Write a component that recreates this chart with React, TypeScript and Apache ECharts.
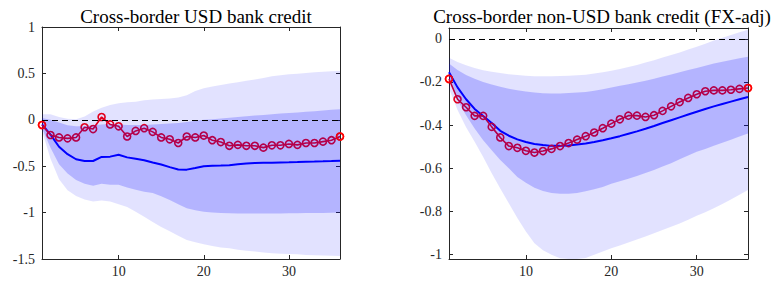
import React, { useEffect, useRef } from "react";
import * as echarts from "echarts";

// Horizons (months)
const horizons = [1, 2, 3, 4, 5, 6, 7, 8, 9, 10, 11, 12, 13, 14, 15, 16, 17, 18, 19, 20, 21, 22, 23, 24, 25, 26, 27, 28, 29, 30, 31, 32, 33, 34, 35, 36];

// Left panel: Cross-border USD bank credit
const usdMedian = [-0.05, -0.16, -0.29, -0.37, -0.425, -0.444, -0.444, -0.4, -0.397, -0.376, -0.405, -0.42, -0.435, -0.46, -0.482, -0.51, -0.535, -0.537, -0.52, -0.5, -0.495, -0.493, -0.49, -0.48, -0.472, -0.465, -0.462, -0.462, -0.46, -0.458, -0.455, -0.451, -0.45, -0.448, -0.445, -0.44];
const usdLocalProj = [-0.056, -0.164, -0.19, -0.2, -0.19, -0.08, -0.1, 0.03, -0.05, -0.07, -0.18, -0.12, -0.09, -0.13, -0.19, -0.21, -0.25, -0.18, -0.19, -0.17, -0.22, -0.24, -0.28, -0.27, -0.28, -0.28, -0.3, -0.275, -0.275, -0.26, -0.27, -0.25, -0.25, -0.235, -0.22, -0.18];
const usd68Lo = [-0.09, -0.3, -0.48, -0.58, -0.65, -0.69, -0.71, -0.69, -0.7, -0.7, -0.73, -0.755, -0.775, -0.79, -0.825, -0.864, -0.91, -0.954, -0.975, -0.99, -1.0, -1.005, -1.008, -1.01, -1.01, -1.01, -1.01, -1.01, -1.01, -1.008, -1.006, -1.005, -1.004, -1.003, -1.002, -1.0];
const usd68Hi = [0.02, 0.0, -0.03, -0.06, -0.07, -0.07, -0.06, -0.05, -0.045, -0.05, -0.055, -0.056, -0.055, -0.05, -0.045, -0.04, -0.035, -0.025, -0.01, 0.0, 0.005, 0.015, 0.022, 0.03, 0.038, 0.045, 0.052, 0.06, 0.068, 0.074, 0.08, 0.087, 0.093, 0.1, 0.107, 0.113];
const usd90Lo = [-0.12, -0.42, -0.64, -0.76, -0.82, -0.86, -0.88, -0.87, -0.88, -0.91, -0.94, -0.99, -1.045, -1.1, -1.155, -1.2, -1.25, -1.295, -1.32, -1.34, -1.36, -1.375, -1.385, -1.4, -1.41, -1.42, -1.43, -1.439, -1.443, -1.447, -1.45, -1.457, -1.46, -1.463, -1.466, -1.468];
const usd90Hi = [0.06, 0.06, 0.03, 0.01, 0.005, 0.035, 0.09, 0.13, 0.16, 0.178, 0.188, 0.195, 0.21, 0.22, 0.225, 0.23, 0.24, 0.265, 0.31, 0.34, 0.36, 0.375, 0.39, 0.405, 0.42, 0.435, 0.45, 0.47, 0.48, 0.49, 0.495, 0.505, 0.512, 0.518, 0.522, 0.525];

// Right panel: Cross-border non-USD bank credit (FX-adj)
const nonUsdMedian = [-0.155, -0.225, -0.28, -0.325, -0.358, -0.39, -0.426, -0.449, -0.466, -0.478, -0.487, -0.492, -0.496, -0.496, -0.494, -0.49, -0.485, -0.478, -0.47, -0.461, -0.451, -0.44, -0.429, -0.417, -0.404, -0.39, -0.377, -0.364, -0.351, -0.338, -0.325, -0.313, -0.302, -0.291, -0.28, -0.27];
const nonUsdLocalProj = [-0.186, -0.28, -0.317, -0.357, -0.357, -0.408, -0.457, -0.497, -0.505, -0.519, -0.527, -0.52, -0.51, -0.497, -0.483, -0.467, -0.451, -0.434, -0.414, -0.393, -0.373, -0.356, -0.356, -0.362, -0.354, -0.334, -0.313, -0.293, -0.274, -0.257, -0.243, -0.239, -0.239, -0.236, -0.232, -0.228];
const nonUsd68Lo = [-0.19, -0.285, -0.354, -0.416, -0.47, -0.516, -0.562, -0.6, -0.64, -0.667, -0.69, -0.705, -0.714, -0.718, -0.718, -0.714, -0.706, -0.697, -0.686, -0.672, -0.66, -0.648, -0.635, -0.622, -0.608, -0.592, -0.576, -0.558, -0.541, -0.523, -0.51, -0.496, -0.482, -0.468, -0.453, -0.439];
const nonUsd68Hi = [-0.114, -0.145, -0.168, -0.185, -0.2, -0.212, -0.222, -0.231, -0.238, -0.244, -0.249, -0.252, -0.253, -0.253, -0.251, -0.249, -0.246, -0.241, -0.234, -0.226, -0.218, -0.21, -0.202, -0.194, -0.185, -0.175, -0.165, -0.155, -0.145, -0.135, -0.125, -0.115, -0.106, -0.098, -0.09, -0.083];
const nonUsd90Lo = [-0.23, -0.33, -0.41, -0.477, -0.547, -0.623, -0.693, -0.762, -0.83, -0.893, -0.947, -0.98, -1.0, -1.016, -1.022, -1.022, -1.015, -1.0, -0.985, -0.97, -0.957, -0.943, -0.93, -0.916, -0.901, -0.886, -0.871, -0.855, -0.838, -0.82, -0.803, -0.785, -0.765, -0.744, -0.722, -0.7];
const nonUsd90Hi = [-0.088, -0.107, -0.122, -0.135, -0.146, -0.153, -0.159, -0.164, -0.168, -0.171, -0.173, -0.173, -0.173, -0.172, -0.171, -0.169, -0.166, -0.161, -0.155, -0.148, -0.14, -0.131, -0.121, -0.11, -0.099, -0.087, -0.075, -0.063, -0.05, -0.037, -0.023, -0.008, 0.005, 0.018, 0.03, 0.042];

const panelTitles = ["Cross-border USD bank credit", "Cross-border non-USD bank credit (FX-adj)"];
const xTickValues = [10, 20, 30];
const usdYTicks = [-1.5, -1, -0.5, 0, 0.5, 1];
const nonUsdYTicks = [-1, -0.8, -0.6, -0.4, -0.2, 0];
const usdYRange = [-1.5, 1];
const nonUsdYRange = [-1.02, 0.05];
const xRange = [1, 36];

const FONT = "Liberation Serif";
const AXIS_COLOR = "#262626";

function pairs(vals: number[]) {
  return horizons.map((h, i) => [h, vals[i]]);
}

function bandSeries(g: number, lo: number[], hi: number[], opacity: number) {
  return {
    type: "custom",
    xAxisIndex: g * 2,
    yAxisIndex: g * 2,
    z: 3,
    silent: true,
    clip: true,
    data: [[horizons[0], lo[0]]],
    renderItem: (params: any, api: any) => {
      const upper = horizons.map((h, i) => api.coord([h, hi[i]]));
      const lower = horizons.map((h, i) => api.coord([h, lo[i]])).reverse();
      const cs = params.coordSys;
      const pts = echarts.graphic.clipPointsByRect(upper.concat(lower), {
        x: cs.x,
        y: cs.y,
        width: cs.width,
        height: cs.height,
      });
      return {
        type: "polygon",
        shape: { points: pts },
        style: { fill: "#0000FF", opacity },
      };
    },
  };
}

const markerStyle = { color: "rgba(0,0,0,0)", borderColor: "#FF0000", borderWidth: 1.6 };

function panelSeries(g: number, median: number[], lp: number[], lo68: number[], hi68: number[], lo90: number[], hi90: number[]) {
  return [
    {
      type: "line",
      xAxisIndex: g * 2,
      yAxisIndex: g * 2,
      z: 2,
      data: pairs(median),
      showSymbol: false,
      symbol: "none",
      lineStyle: { color: "#0000FF", width: 2 },
      silent: true,
      markLine: {
        silent: true,
        symbol: "none",
        label: { show: false },
        lineStyle: { color: "#000000", type: [6, 4], width: 1 },
        data: [{ yAxis: 0 }],
      },
    },
    {
      type: "line",
      xAxisIndex: g * 2,
      yAxisIndex: g * 2,
      z: 2,
      data: pairs(lp),
      symbol: "circle",
      symbolSize: 7,
      showAllSymbol: true,
      lineStyle: { color: "#FF0000", width: 1.6 },
      itemStyle: markerStyle,
      silent: true,
    },
    bandSeries(g, lo90, hi90, 0.115),
    bandSeries(g, lo68, hi68, 0.2),
    {
      type: "scatter",
      xAxisIndex: g * 2,
      yAxisIndex: g * 2,
      z: 4,
      clip: false,
      silent: true,
      symbol: "circle",
      symbolSize: 7,
      itemStyle: markerStyle,
      data: [
        [horizons[0], lp[0]],
        [horizons[horizons.length - 1], lp[lp.length - 1]],
      ],
    },
  ];
}

function fmt(v: number) {
  return String(+v.toFixed(2));
}

function axesFor(g: number, yRange: number[], yTicks: number[]) {
  const tick = { show: true, inside: true, length: 4, lineStyle: { color: AXIS_COLOR, width: 1 } };
  const xAxes = [
    {
      type: "value",
      gridIndex: g,
      position: "bottom",
      min: xRange[0],
      max: xRange[1],
      axisLine: { show: true, onZero: false, lineStyle: { color: AXIS_COLOR, width: 1 } },
      axisTick: { ...tick, customValues: xTickValues },
      axisLabel: { show: true, customValues: xTickValues, fontFamily: FONT, fontSize: 14, color: AXIS_COLOR, margin: 5, formatter: fmt },
      splitLine: { show: false },
    },
    {
      type: "value",
      gridIndex: g,
      position: "top",
      min: xRange[0],
      max: xRange[1],
      axisLine: { show: true, onZero: false, lineStyle: { color: AXIS_COLOR, width: 1 } },
      axisTick: { ...tick, customValues: xTickValues },
      axisLabel: { show: false },
      splitLine: { show: false },
    },
  ];
  const yAxes = [
    {
      type: "value",
      gridIndex: g,
      position: "left",
      min: yRange[0],
      max: yRange[1],
      axisLine: { show: true, onZero: false, lineStyle: { color: AXIS_COLOR, width: 1 } },
      axisTick: { ...tick, customValues: yTicks },
      axisLabel: { show: true, customValues: yTicks, fontFamily: FONT, fontSize: 14, color: AXIS_COLOR, margin: 7, formatter: fmt },
      splitLine: { show: false },
    },
    {
      type: "value",
      gridIndex: g,
      position: "right",
      min: yRange[0],
      max: yRange[1],
      axisLine: { show: true, onZero: false, lineStyle: { color: AXIS_COLOR, width: 1 } },
      axisTick: { ...tick, customValues: yTicks },
      axisLabel: { show: false },
      splitLine: { show: false },
    },
  ];
  return { xAxes, yAxes };
}

export default function App() {
  const ref = useRef<HTMLDivElement>(null);

  useEffect(() => {
    if (!ref.current) return;
    const chart = echarts.init(ref.current, undefined, { renderer: "svg" });
    const a0 = axesFor(0, usdYRange, usdYTicks);
    const a1 = axesFor(1, nonUsdYRange, nonUsdYTicks);
    chart.setOption({
      animation: false,
      backgroundColor: "#ffffff",
      textStyle: { fontFamily: FONT },
      title: [
        {
          text: panelTitles[0],
          left: 191,
          top: 2,
          textAlign: "center",
          textStyle: { fontFamily: FONT, fontSize: 19, fontWeight: "normal", color: "#000000" },
        },
        {
          text: panelTitles[1],
          left: 597,
          top: 2,
          textAlign: "center",
          textStyle: { fontFamily: FONT, fontSize: 19, fontWeight: "normal", color: "#000000" },
        },
      ],
      grid: [
        { left: 42, top: 27, width: 298, height: 232, containLabel: false },
        { left: 449, top: 28, width: 299, height: 231, containLabel: false },
      ],
      xAxis: [...a0.xAxes, ...a1.xAxes],
      yAxis: [...a0.yAxes, ...a1.yAxes],
      series: [
        ...panelSeries(0, usdMedian, usdLocalProj, usd68Lo, usd68Hi, usd90Lo, usd90Hi),
        ...panelSeries(1, nonUsdMedian, nonUsdLocalProj, nonUsd68Lo, nonUsd68Hi, nonUsd90Lo, nonUsd90Hi),
      ],
    });
    return () => chart.dispose();
  }, []);

  return (
    <div
      ref={ref}
      style={{ position: "absolute", left: 0, top: 0, width: 771, height: 284 }}
    />
  );
}
